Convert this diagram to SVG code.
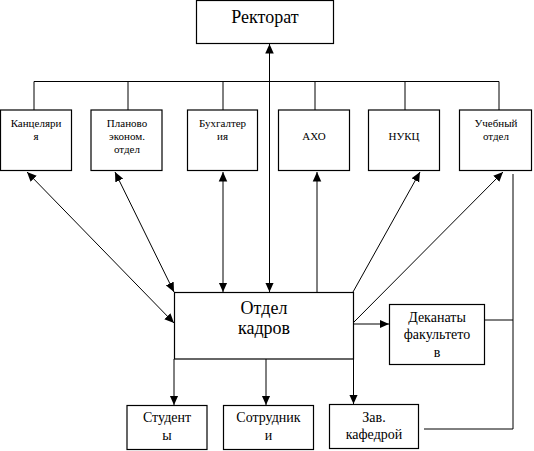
<svg xmlns="http://www.w3.org/2000/svg" width="534" height="451" viewBox="0 0 534 451">
<style>
.box{fill:#fff;stroke:#000;stroke-width:1.2}
.ln{fill:none;stroke:#000;stroke-width:1}
text{font-family:"Liberation Serif","Times New Roman",serif;fill:#000;text-anchor:middle}
.s{font-size:11px}
.m{font-size:14px}
.l{font-size:18px}
</style>
<defs>
<marker id="ah" viewBox="0 0 10 10" refX="10" refY="5" markerWidth="9.5" markerHeight="9.5" orient="auto-start-reverse" markerUnits="userSpaceOnUse">
<path d="M0,0.5 L10,5 L0,9.5 z" fill="#000"/>
</marker>
</defs>
<rect width="534" height="451" fill="#fff"/>
<g id="connectors">
<path class="ln" d="M34,110 V81.5 H499 V110 M128,81.5 V110 M223,81.5 V110 M315,81.5 V110 M405,81.5 V110"/>
<line class="ln" x1="269.5" y1="44" x2="269.5" y2="292" marker-start="url(#ah)" marker-end="url(#ah)"/>
<line class="ln" x1="27" y1="172" x2="174" y2="323" marker-start="url(#ah)" marker-end="url(#ah)"/>
<line class="ln" x1="115" y1="172" x2="174" y2="292" marker-start="url(#ah)" marker-end="url(#ah)"/>
<line class="ln" x1="223" y1="172" x2="223" y2="292" marker-start="url(#ah)" marker-end="url(#ah)"/>
<line class="ln" x1="317" y1="292" x2="317" y2="172" marker-end="url(#ah)"/>
<line class="ln" x1="353" y1="292" x2="420" y2="172" marker-end="url(#ah)"/>
<line class="ln" x1="353" y1="323" x2="503" y2="172" marker-end="url(#ah)"/>
<line class="ln" x1="353" y1="324" x2="389" y2="324" marker-end="url(#ah)"/>
<line class="ln" x1="174" y1="359" x2="174" y2="405" marker-end="url(#ah)"/>
<line class="ln" x1="266" y1="359" x2="266" y2="405" marker-end="url(#ah)"/>
<line class="ln" x1="353.5" y1="359" x2="353.5" y2="404" marker-end="url(#ah)"/>
<path class="ln" d="M484,320 H513 M513,174 V429 H424"/>
</g>
<g id="rektorat"><rect class="box" x="196.5" y="0.5" width="137" height="43"/><text class="l" x="265" y="23">Ректорат</text></g>
<g id="kanc"><rect class="box" x="0.5" y="110" width="71" height="60.5"/><text class="s" x="36" y="127">Канцеляри</text><text class="s" x="36" y="140">я</text></g>
<g id="plan"><rect class="box" x="91" y="110" width="71" height="60.5"/><text class="s" x="127" y="127">Планово</text><text class="s" x="127" y="140">эконом.</text><text class="s" x="127" y="153">отдел</text></g>
<g id="buh"><rect class="box" x="187.5" y="110" width="70" height="60.5"/><text class="s" x="222.5" y="127">Бухгалтер</text><text class="s" x="222.5" y="140">ия</text></g>
<g id="aho"><rect class="box" x="278.5" y="110" width="71" height="60.5"/><text class="s" x="314" y="140">АХО</text></g>
<g id="nukc"><rect class="box" x="368.5" y="110" width="71" height="60.5"/><text class="s" x="404" y="140">НУКЦ</text></g>
<g id="ucheb"><rect class="box" x="459.5" y="110" width="72" height="60.5"/><text class="s" x="496" y="127">Учебный</text><text class="s" x="496" y="140">отдел</text></g>
<g id="kadry"><rect class="box" x="174.5" y="292.5" width="179" height="66.5"/><text class="l" x="264" y="314">Отдел</text><text class="l" x="264" y="334">кадров</text></g>
<g id="dekanaty"><rect class="box" x="389.5" y="304.5" width="95" height="60"/><text class="m" x="437" y="322">Деканаты</text><text class="m" x="437" y="339">факультето</text><text class="m" x="437" y="357">в</text></g>
<g id="studenty"><rect class="box" x="127" y="405.5" width="80" height="44"/><text class="m" x="167" y="422">Студент</text><text class="m" x="167" y="440">ы</text></g>
<g id="sotrudniki"><rect class="box" x="223.5" y="405.5" width="90" height="44"/><text class="m" x="268.5" y="422">Сотрудник</text><text class="m" x="268.5" y="440">и</text></g>
<g id="zav"><rect class="box" x="329.5" y="404.5" width="89" height="44"/><text class="m" x="374" y="422">Зав.</text><text class="m" x="374" y="439">кафедрой</text></g>
</svg>
